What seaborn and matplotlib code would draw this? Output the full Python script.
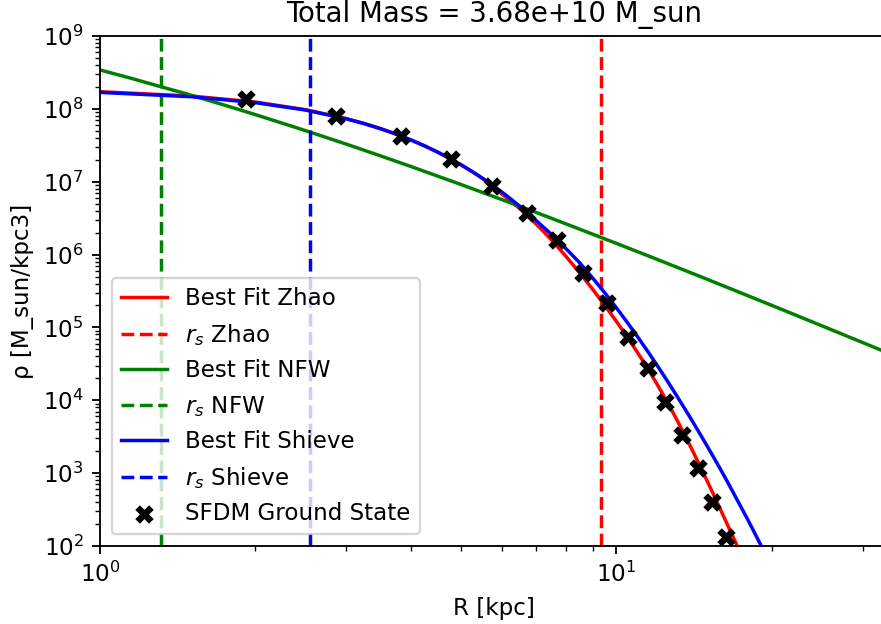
import matplotlib
matplotlib.use("Agg")
import matplotlib.pyplot as plt
import pandas as pd
import seaborn as sns

# ---- data ----
title_text = "Total Mass = 3.68e+10 M_sun"

# SFDM ground state samples
r_data = [1.92, 2.87, 3.83, 4.79, 5.75, 6.71, 7.68, 8.63, 9.6, 10.55,
          11.5, 12.45, 13.4, 14.4, 15.33, 16.3]
rho_data = [1.35e8, 7.98e7, 4.28e7, 2.05e7, 8.8e6, 3.68e6, 1.585e6, 5.54e5,
            2.14e5, 7.46e4, 2.75e4, 9.57e3, 3.34e3, 1.17e3, 406, 134]

# Best fit Zhao curve
r_zhao = [1.0, 1.5, 2.0, 2.5, 3.0, 3.25, 3.5, 3.75, 4.0, 4.25, 4.5, 4.75,
          5.0, 5.25, 5.5, 5.75, 6.0, 6.25, 6.5, 6.75, 7.0, 7.25, 7.5, 7.75,
          8.0, 8.5, 9.0, 9.5, 10.0, 10.5, 11.0, 11.5, 12.0, 12.5, 13.0, 13.5,
          14.0, 14.5, 15.0, 15.5, 16.0, 16.5, 17.0, 17.5]
rho_zhao = [1.72e8, 1.50e8, 1.24e8, 9.75e7, 7.35e7, 6.3e7, 5.34e7, 4.49e7,
            3.75e7, 3.11e7, 2.565e7, 2.10e7, 1.71e7, 1.385e7, 1.115e7,
            8.95e6, 6.81e6, 5.40e6, 4.27e6, 3.35e6, 2.61e6, 2.03e6, 1.57e6,
            1.21e6, 9.35e5, 5.58e5, 3.34e5, 2.01e5, 1.216e5, 7.40e4, 4.50e4,
            2.74e4, 1.656e4, 9.98e3, 6.0e3, 3.59e3, 2.15e3, 1.29e3, 780,
            475, 292, 182, 115, 73]

# Best fit NFW curve
r_nfw = [1.0, 1.15, 1.3, 1.45, 1.6, 1.8, 2.0, 2.5, 3.0, 3.5, 4.0, 5.0, 6.0,
         7.0, 8.0, 10.0, 12.0, 14.5, 17.0, 20.0, 25.0, 33.0]
rho_nfw = [3.42e8, 2.623e8, 2.05e8, 1.653e8, 1.347e8, 1.049e8, 8.33e7,
           5.03e7, 3.28e7, 2.254e7, 1.62e7, 9.17e6, 5.69e6, 3.78e6, 2.63e6,
           1.427e6, 8.59e5, 5.04e5, 3.2e5, 2.01e5, 1.055e5, 4.7e4]

# Best fit Shieve curve
r_shieve = [1.0, 1.5, 2.0, 2.5, 3.0, 3.25, 3.5, 3.75, 4.0, 4.25, 4.5, 4.75,
            5.0, 5.25, 5.5, 5.75, 6.0, 6.25, 6.5, 6.75, 7.0, 7.25, 7.5, 7.75,
            8.0, 8.5, 9.0, 9.5, 10.0, 10.5, 11.0, 11.5, 12.0, 12.5, 13.0,
            13.5, 14.0, 14.5, 15.0, 15.5, 16.0, 16.5, 17.0, 17.5, 18.0, 18.5,
            19.0, 19.5, 20.0]
rho_shieve = [1.683e8, 1.468e8, 1.217e8, 9.63e7, 7.29e7, 6.256e7, 5.32e7,
              4.48e7, 3.75e7, 3.111e7, 2.565e7, 2.103e7, 1.714e7, 1.390e7,
              1.122e7, 9.03e6, 7.24e6, 5.78e6, 4.61e6, 3.66e6, 2.92e6,
              2.33e6, 1.88e6, 1.50e6, 1.195e6, 7.67e5, 4.77e5, 2.99e5,
              1.87e5, 1.175e5, 7.43e4, 4.72e4, 3.01e4, 1.936e4, 1.252e4,
              8.15e3, 5.36e3, 3.53e3, 2.35e3, 1.571e3, 1.059e3, 713, 482,
              328, 226, 155, 107, 75, 52]

# scale radii
rs_zhao = 9.34
rs_nfw = 1.31
rs_shieve = 2.55

# ---- figure ----
DPI = 166
fig = plt.figure(figsize=(881 / DPI, 624 / DPI), dpi=DPI)
ax = fig.add_axes([100 / 881, 78 / 624, 788 / 881, 510 / 624])

sns.lineplot(data=pd.DataFrame({"R": r_zhao, "rho": rho_zhao}), x="R", y="rho",
             color="red", lw=1.5, label="Best Fit Zhao", ax=ax)
ax.axvline(rs_zhao, color="red", ls="--", lw=1.5, label=r"$r_s$ Zhao")
sns.lineplot(data=pd.DataFrame({"R": r_nfw, "rho": rho_nfw}), x="R", y="rho",
             color="green", lw=1.5, label="Best Fit NFW", ax=ax)
ax.axvline(rs_nfw, color="green", ls="--", lw=1.5, label=r"$r_s$ NFW")
sns.lineplot(data=pd.DataFrame({"R": r_shieve, "rho": rho_shieve}), x="R",
             y="rho", color="blue", lw=1.5, label="Best Fit Shieve", ax=ax)
ax.axvline(rs_shieve, color="blue", ls="--", lw=1.5, label=r"$r_s$ Shieve")
sns.scatterplot(data=pd.DataFrame({"R": r_data, "rho": rho_data}), x="R",
                y="rho", color="black", marker="X", s=64, linewidth=0,
                label="SFDM Ground State", ax=ax, zorder=3)

ax.set_xscale("log")
ax.set_yscale("log")
ax.set_xlim(1.0, 33.6)
ax.set_ylim(1e2, 1e9)
ax.set_xlabel("R [kpc]")
ax.set_ylabel("ρ [M_sun/kpc3]")
ax.set_title(title_text)
ax.legend(loc="lower left")

fig.savefig("out.png", dpi=DPI)
